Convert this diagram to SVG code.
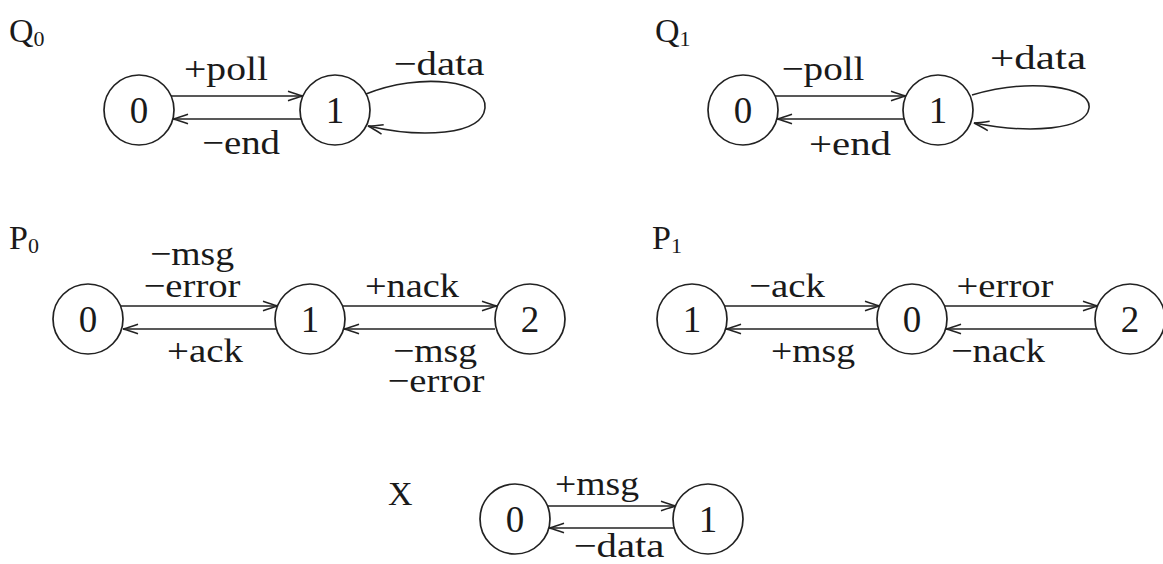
<svg xmlns="http://www.w3.org/2000/svg" width="1163" height="564" viewBox="0 0 1163 564">
<style>
.bg{fill:#fff}
.n{fill:none;stroke:#222;stroke-width:1.7}
.d{font-family:"Liberation Serif","DejaVu Serif",serif;font-size:37px;fill:#1a1a1a;text-anchor:middle}
.l{font-family:"Liberation Serif","DejaVu Serif",serif;font-size:34px;fill:#1a1a1a;text-anchor:middle}
.h{font-family:"Liberation Serif","DejaVu Serif",serif;font-size:34px;fill:#1a1a1a}
.s{font-size:22px}
.e{fill:none;stroke:#222;stroke-width:1.6}
</style>
<defs>
<marker id="a" markerWidth="20" markerHeight="14" refX="15" refY="7" orient="auto" markerUnits="userSpaceOnUse" overflow="visible">
<path d="M0,2.2 Q9,5.5 15,7 Q9,8.5 0,11.8" fill="none" stroke="#222" stroke-width="1.5"/>
</marker>
</defs>
<rect class="bg" x="0" y="0" width="1163" height="564"/>

<g id="titles">
<text class="h" x="9" y="42">Q<tspan class="s" dy="4">0</tspan></text>
<text class="h" x="655" y="42">Q<tspan class="s" dy="4">1</tspan></text>
<text class="h" x="9" y="249">P<tspan class="s" dy="4">0</tspan></text>
<text class="h" x="652" y="249">P<tspan class="s" dy="4">1</tspan></text>
<text class="h" x="388" y="505">X</text>
</g>

<g id="connectors">
<line class="e" x1="171" y1="96" x2="303" y2="96" marker-end="url(#a)"/>
<line class="e" x1="301" y1="119" x2="173" y2="119" marker-end="url(#a)"/>
<path class="e" d="M366,94 C420,72 488,80 485,108 C482,136 420,138 368,126" marker-end="url(#a)"/>
<line class="e" x1="775" y1="96" x2="906" y2="96" marker-end="url(#a)"/>
<line class="e" x1="904" y1="119" x2="777" y2="119" marker-end="url(#a)"/>
<path class="e" d="M972,95 C1030,78 1092,86 1089,108 C1086,130 1030,134 974,123" marker-end="url(#a)"/>
<line class="e" x1="121" y1="306" x2="278" y2="306" marker-end="url(#a)"/>
<line class="e" x1="276" y1="329" x2="123" y2="329" marker-end="url(#a)"/>
<line class="e" x1="342" y1="306" x2="497" y2="306" marker-end="url(#a)"/>
<line class="e" x1="495" y1="329" x2="344" y2="329" marker-end="url(#a)"/>
<line class="e" x1="724" y1="306" x2="880" y2="306" marker-end="url(#a)"/>
<line class="e" x1="878" y1="329" x2="726" y2="329" marker-end="url(#a)"/>
<line class="e" x1="944" y1="306" x2="1098" y2="306" marker-end="url(#a)"/>
<line class="e" x1="1096" y1="329" x2="946" y2="329" marker-end="url(#a)"/>
<line class="e" x1="547" y1="506" x2="676" y2="506" marker-end="url(#a)"/>
<line class="e" x1="674" y1="528" x2="549" y2="528" marker-end="url(#a)"/>
</g>

<g id="edge-labels">
<text class="l" x="226" y="80" textLength="84" lengthAdjust="spacingAndGlyphs">+poll</text>
<text class="l" x="241" y="154" textLength="78" lengthAdjust="spacingAndGlyphs">−end</text>
<text class="l" x="439" y="75" textLength="91" lengthAdjust="spacingAndGlyphs">−data</text>
<text class="l" x="823" y="80" textLength="83" lengthAdjust="spacingAndGlyphs">−poll</text>
<text class="l" x="850" y="155" textLength="82" lengthAdjust="spacingAndGlyphs">+end</text>
<text class="l" x="1038" y="69" textLength="96" lengthAdjust="spacingAndGlyphs">+data</text>
<text class="l" x="192" y="265" textLength="84" lengthAdjust="spacingAndGlyphs">−msg</text>
<text class="l" x="192" y="297" textLength="97" lengthAdjust="spacingAndGlyphs">−error</text>
<text class="l" x="412" y="297" textLength="94" lengthAdjust="spacingAndGlyphs">+nack</text>
<text class="l" x="205" y="362" textLength="76" lengthAdjust="spacingAndGlyphs">+ack</text>
<text class="l" x="435" y="362" textLength="84" lengthAdjust="spacingAndGlyphs">−msg</text>
<text class="l" x="436" y="392" textLength="97" lengthAdjust="spacingAndGlyphs">−error</text>
<text class="l" x="787" y="297" textLength="76" lengthAdjust="spacingAndGlyphs">−ack</text>
<text class="l" x="1005" y="297" textLength="97" lengthAdjust="spacingAndGlyphs">+error</text>
<text class="l" x="813" y="362" textLength="84" lengthAdjust="spacingAndGlyphs">+msg</text>
<text class="l" x="998" y="362" textLength="94" lengthAdjust="spacingAndGlyphs">−nack</text>
<text class="l" x="597" y="495" textLength="84" lengthAdjust="spacingAndGlyphs">+msg</text>
<text class="l" x="619" y="557" textLength="91" lengthAdjust="spacingAndGlyphs">−data</text>
</g>

<g id="q0-s0"><circle class="n" cx="139" cy="110" r="35"/><text class="d" x="139" y="123">0</text></g>
<g id="q0-s1"><circle class="n" cx="335" cy="110" r="35"/><text class="d" x="335" y="123">1</text></g>
<g id="q1-s0"><circle class="n" cx="743" cy="110" r="35"/><text class="d" x="743" y="123">0</text></g>
<g id="q1-s1"><circle class="n" cx="938" cy="110" r="35"/><text class="d" x="938" y="123">1</text></g>
<g id="p0-s0"><circle class="n" cx="88" cy="319" r="35"/><text class="d" x="88" y="332">0</text></g>
<g id="p0-s1"><circle class="n" cx="310" cy="319" r="35"/><text class="d" x="310" y="332">1</text></g>
<g id="p0-s2"><circle class="n" cx="530" cy="319" r="35"/><text class="d" x="530" y="332">2</text></g>
<g id="p1-s1"><circle class="n" cx="692" cy="319" r="35"/><text class="d" x="692" y="332">1</text></g>
<g id="p1-s0"><circle class="n" cx="912" cy="319" r="35"/><text class="d" x="912" y="332">0</text></g>
<g id="p1-s2"><circle class="n" cx="1130" cy="319" r="35"/><text class="d" x="1130" y="332">2</text></g>
<g id="x-s0"><circle class="n" cx="515" cy="519" r="35"/><text class="d" x="515" y="532">0</text></g>
<g id="x-s1"><circle class="n" cx="708" cy="519" r="35"/><text class="d" x="708" y="532">1</text></g>
</svg>
